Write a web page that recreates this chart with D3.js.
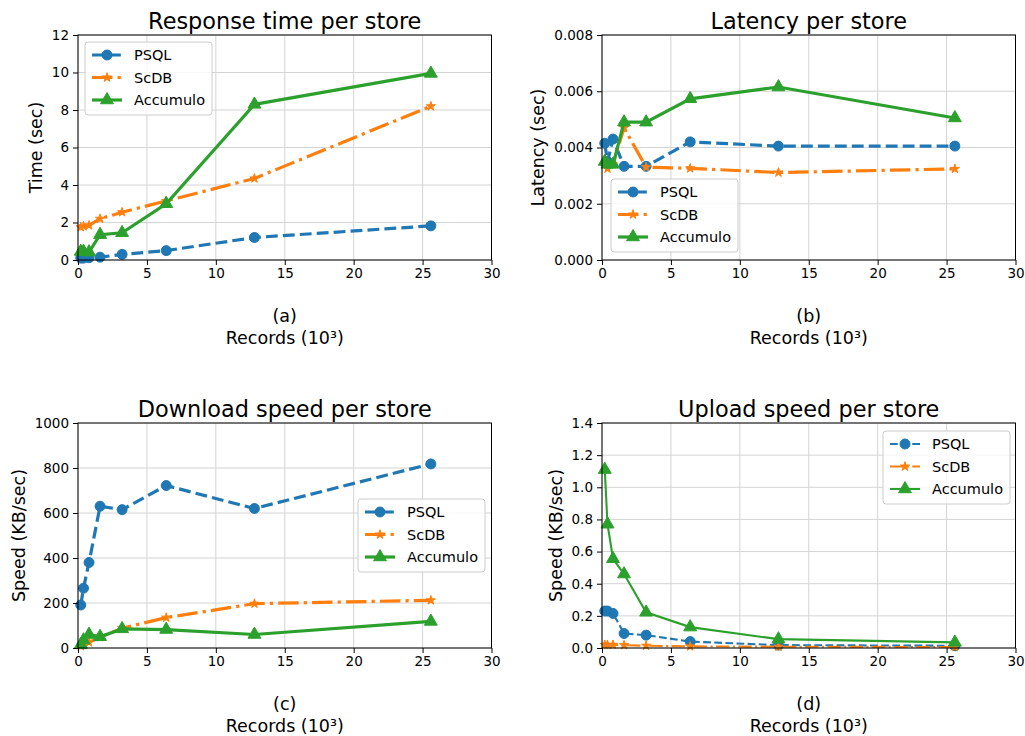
<!DOCTYPE html>
<html lang="en">
<head>
<meta charset="UTF-8">
<title>Store comparison</title>
<style>
  body { margin: 0; background: #fff; }
  text { font-family: "DejaVu Sans", sans-serif; fill: #000; }
  .grid line { stroke: #d4d4d4; stroke-width: 1; }
  .axis path, .axis line { stroke: #000; }
  .legend-box { fill: #fff; fill-opacity: 0.8; stroke: #cccccc; stroke-width: 1; }
</style>
</head>
<body>
<svg id="chart" width="1025" height="736"></svg>
<script src="https://cdnjs.cloudflare.com/ajax/libs/d3/7.8.5/d3.min.js"></script>
<script>

// x values (thousands of records)
var records = [0.2, 0.4, 0.8, 1.6, 3.2, 6.4, 12.8, 25.6];
var storeNames = ["PSQL", "ScDB", "Accumulo"];
var xTicks = [0, 5, 10, 15, 20, 25, 30];

// (a) response time (sec)
var timePSQL     = [0.1, 0.1, 0.12, 0.15, 0.3, 0.5, 1.2, 1.82];
var timeScDB     = [1.75, 1.8, 1.85, 2.2, 2.55, 3.15, 4.35, 8.2];
var timeAccumulo = [0.45, 0.45, 0.42, 1.35, 1.45, 3.0, 8.3, 9.95];

// (b) latency (sec)
var latencyPSQL     = [0.00415, 0.0035, 0.0043, 0.00333, 0.00333, 0.0042, 0.00405, 0.00405];
var latencyScDB     = [0.0034, 0.00325, 0.0034, 0.0047, 0.0033, 0.00326, 0.00311, 0.00324];
var latencyAccumulo = [0.0035, 0.0034, 0.0034, 0.0049, 0.0049, 0.00573, 0.00615, 0.00505];

// (c) download speed (KB/sec)
var downPSQL     = [191, 266, 380, 630, 615, 722, 620, 818];
var downScDB     = [8, 15, 25, 48, 88, 135, 197, 212];
var downAccumulo = [15, 35, 60, 50, 85, 82, 60, 118];

// (d) upload speed (KB/sec)
var upPSQL     = [0.23, 0.23, 0.215, 0.09, 0.08, 0.04, 0.018, 0.014];
var upScDB     = [0.02, 0.02, 0.02, 0.018, 0.014, 0.01, 0.008, 0.006];
var upAccumulo = [1.11, 0.77, 0.555, 0.46, 0.222, 0.13, 0.055, 0.035];

var titles    = ["Response time per store", "Latency per store", "Download speed per store", "Upload speed per store"];
var yLabels   = ["Time (sec)", "Latency (sec)", "Speed (KB/sec)", "Speed (KB/sec)"];
var subLabels = ["(a)", "(b)", "(c)", "(d)"];
var yTicksA = [0, 2, 4, 6, 8, 10, 12];
var yTicksB = [0, 0.002, 0.004, 0.006, 0.008];
var yTicksC = [0, 200, 400, 600, 800, 1000];
var yTicksD = [0, 0.2, 0.4, 0.6, 0.8, 1.0, 1.2, 1.4];

var colors = ["#1f77b4", "#ff7f0e", "#2ca02c"];
var dashes = [[3.7, 1.6], [6.4, 1.6, 1, 1.6], null];
var symbols = [d3.symbolCircle, d3.symbolStar, d3.symbolTriangle];
var symbolSizes = [78, 26, 72];

var panels = [
  { series: [timePSQL, timeScDB, timeAccumulo], ticks: yTicksA, fmt: d3.format("d"),
    left: 78, top: 35, lw: 3.2, legend: [85, 42] },
  { series: [latencyPSQL, latencyScDB, latencyAccumulo], ticks: yTicksB, fmt: d3.format(".3f"),
    left: 602, top: 35, lw: 3.2, legend: [611, 179] },
  { series: [downPSQL, downScDB, downAccumulo], ticks: yTicksC, fmt: d3.format("d"),
    left: 78, top: 423, lw: 3.2, legend: [358, 499] },
  { series: [upPSQL, upScDB, upAccumulo], ticks: yTicksD, fmt: d3.format(".1f"),
    left: 602, top: 423, lw: 2.1, legend: [883, 431] }
];

var plotW = 413.5, plotH = 225;
var svg = d3.select("#chart");

panels.forEach(function(p, k) {
  var g = svg.append("g").attr("transform", "translate(" + p.left + "," + p.top + ")");
  var yMax = p.ticks[p.ticks.length - 1];

  var x = d3.scaleLinear().domain([0, 30]).range([0, plotW]);
  var y = d3.scaleLinear().domain([0, yMax]).range([plotH, 0]);

  // grid
  var grid = g.append("g").attr("class", "grid");
  grid.selectAll(".gx").data(xTicks).enter().append("line")
    .attr("x1", x).attr("x2", x).attr("y1", 0).attr("y2", plotH);
  grid.selectAll(".gy").data(p.ticks).enter().append("line")
    .attr("x1", 0).attr("x2", plotW).attr("y1", y).attr("y2", y);

  // series
  p.series.forEach(function(vals, i) {
    var pts = records.map(function(r, j) { return [r, vals[j]]; });
    var line = d3.line().x(function(d) { return x(d[0]); }).y(function(d) { return y(d[1]); });
    g.append("path")
      .datum(pts)
      .attr("d", line)
      .attr("fill", "none")
      .attr("stroke", colors[i])
      .attr("stroke-width", p.lw)
      .attr("stroke-dasharray", dashes[i] ? dashes[i].map(function(v) { return v * p.lw; }).join(",") : null);
    g.selectAll(".m" + i).data(pts).enter().append("path")
      .attr("transform", function(d) { return "translate(" + x(d[0]) + "," + y(d[1]) + ")"; })
      .attr("d", d3.symbol().type(symbols[i]).size(symbolSizes[i]))
      .attr("fill", colors[i])
      .attr("stroke", colors[i])
      .attr("stroke-width", 1);
  });

  // axes frame
  g.append("rect").attr("width", plotW).attr("height", plotH)
    .attr("fill", "none").attr("stroke", "#000").attr("stroke-width", 1);

  var xAxis = g.append("g").attr("class", "axis")
    .attr("transform", "translate(0," + plotH + ")")
    .call(d3.axisBottom(x).tickValues(xTicks).tickSize(5).tickPadding(3).tickFormat(d3.format("d")));
  xAxis.select(".domain").remove();
  xAxis.selectAll("text").style("font-size", "13.5px");

  var yAxis = g.append("g").attr("class", "axis")
    .call(d3.axisLeft(y).tickValues(p.ticks).tickSize(5).tickPadding(4).tickFormat(p.fmt));
  yAxis.select(".domain").remove();
  yAxis.selectAll("text").style("font-size", "13.5px");

  // title
  g.append("text")
    .attr("x", plotW / 2).attr("y", -6)
    .attr("text-anchor", "middle")
    .style("font-size", "22.4px")
    .text(titles[k]);

  // x label (two lines)
  g.append("text")
    .attr("x", plotW / 2).attr("y", plotH + 62)
    .attr("text-anchor", "middle")
    .style("font-size", "17.5px")
    .text(subLabels[k]);
  g.append("text")
    .attr("x", plotW / 2).attr("y", plotH + 84)
    .attr("text-anchor", "middle")
    .style("font-size", "17.5px")
    .text("Records (10³)");

  // y label, placed left of tick labels
  var minX = d3.min(yAxis.selectAll("text").nodes(), function(n) { return n.getBBox().x; });
  g.append("text")
    .attr("transform", "translate(" + (minX - 10) + "," + (plotH / 2) + ") rotate(-90)")
    .attr("text-anchor", "middle")
    .style("font-size", "17.5px")
    .text(yLabels[k]);

  // legend
  var lg = svg.append("g").attr("transform", "translate(" + p.legend[0] + "," + p.legend[1] + ")");
  lg.append("rect").attr("class", "legend-box")
    .attr("width", 127).attr("height", 73).attr("rx", 3).attr("ry", 3);
  storeNames.forEach(function(name, i) {
    var row = lg.append("g").attr("transform", "translate(0," + (13 + i * 22.5) + ")");
    row.append("line")
      .attr("x1", 7).attr("x2", 37).attr("y1", 0).attr("y2", 0)
      .attr("stroke", colors[i])
      .attr("stroke-width", p.lw)
      .attr("stroke-dasharray", dashes[i] ? dashes[i].map(function(v) { return v * p.lw; }).join(",") : null);
    row.append("path")
      .attr("transform", "translate(22,0)")
      .attr("d", d3.symbol().type(symbols[i]).size(symbolSizes[i]))
      .attr("fill", colors[i]).attr("stroke", colors[i]).attr("stroke-width", 1);
    row.append("text")
      .attr("x", 49).attr("y", 5)
      .style("font-size", "14.5px")
      .text(name);
  });
});

</script>
</body>
</html>
